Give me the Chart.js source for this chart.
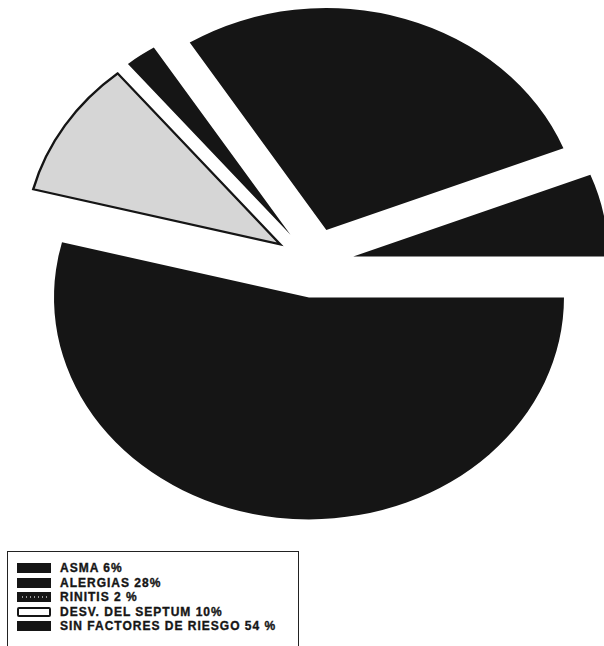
<!DOCTYPE html>
<html lang="es">
<head>
  <meta charset="UTF-8">
  <title>Factores de riesgo</title>
  <script src="https://cdn.jsdelivr.net/npm/chart.js"></script>
  <style>
    body {
      margin: 0;
      width: 604px;
      height: 646px;
      overflow: hidden;
      position: relative;
      background: #fff;
      font-family: "Liberation Sans", Arial, sans-serif;
    }

    #pie {
      position: absolute;
      left: 0;
      top: 0;
    }

    .legend {
      position: absolute;
      left: 7px;
      top: 551px;
      width: 292px;
      height: 110px;
      border: 1px solid #222;
      box-sizing: border-box;
      padding-top: 9px;
    }

    .legend-item {
      height: 14.5px;
      display: flex;
      align-items: center;
      font-weight: bold;
      font-size: 12px;
      letter-spacing: 1px;
      color: #151515;
      -webkit-text-stroke: 0.35px #151515;
      white-space: nowrap;
    }

    .swatch {
      width: 34px;
      height: 10px;
      margin-left: 9px;
      margin-right: 9px;
      box-sizing: border-box;
      flex: none;
    }
  </style>
</head>

<body>
  <canvas id="pie" width="604" height="540"></canvas>
  <div class="legend" id="legend"></div>

  <script>
    // legend order (top to bottom)
    const categories = ['ASMA', 'ALERGIAS', 'RINITIS', 'DESV. DEL SEPTUM', 'SIN FACTORES DE RIESGO'];
    const values = [6, 28, 2, 10, 54];
    const legendLabels = ['ASMA 6%', 'ALERGIAS 28%', 'RINITIS 2 %', 'DESV. DEL SEPTUM 10%', 'SIN FACTORES DE RIESGO 54 %'];
    const fills = ['#151515', '#151515', '#151515', '#d6d6d6', '#151515'];
    const borderWidths = [0, 0, 0, 2.5, 0];

    // the pie runs clockwise from the right, so it takes the legend order reversed
    const rev = arr => arr.slice().reverse();

    // pulls every slice out along its middle angle and tilts the pie into an ellipse
    const explodeAndTilt = {
      id: 'explodeAndTilt',
      beforeDatasetsDraw(chart, args, opts) {
        const area = chart.chartArea;
        const cx = (area.left + area.right) / 2;
        const cy = (area.top + area.bottom) / 2;
        chart.getDatasetMeta(0).data.forEach(arc => {
          const mid = (arc.startAngle + arc.endAngle) / 2;
          arc.x = cx + opts.distance * Math.cos(mid);
          arc.y = cy + opts.distance * Math.sin(mid);
        });
        const ctx = chart.ctx;
        ctx.save();
        ctx.translate(0, cy);
        ctx.scale(1, opts.tilt);
        ctx.translate(0, -cy);
      },
      afterDatasetsDraw(chart) {
        chart.ctx.restore();
      }
    };

    new Chart(document.getElementById('pie').getContext('2d'), {
      type: 'pie',
      data: {
        labels: rev(categories),
        datasets: [{
          data: rev(values),
          backgroundColor: rev(fills),
          borderColor: '#151515',
          borderWidth: rev(borderWidths),
          borderJoinStyle: 'miter',
          clip: false
        }]
      },
      options: {
        responsive: false,
        animation: false,
        rotation: 90,
        radius: 255,
        layout: { padding: { left: 24, bottom: 14 } },
        plugins: {
          legend: { display: false },
          tooltip: { enabled: false },
          explodeAndTilt: { distance: 40, tilt: 0.87 }
        }
      },
      plugins: [explodeAndTilt]
    });

    // html legend, one row per category
    const legend = document.getElementById('legend');
    legendLabels.forEach((text, i) => {
      const row = document.createElement('div');
      row.className = 'legend-item';
      const sw = document.createElement('span');
      sw.className = 'swatch';
      if (categories[i] === 'RINITIS') {
        sw.style.background = '#151515';
        sw.style.border = '2px solid #151515';
        sw.style.backgroundImage = 'repeating-linear-gradient(90deg, #151515 0 3px, #9a9a9a 3px 4px)';
        sw.style.backgroundSize = '100% 2px';
        sw.style.backgroundRepeat = 'no-repeat';
        sw.style.backgroundPosition = 'center';
      } else if (fills[i] !== '#151515') {
        sw.style.background = '#fff';
        sw.style.border = '2px solid #151515';
        sw.style.borderRadius = '2px';
      } else {
        sw.style.background = fills[i];
      }
      row.appendChild(sw);
      row.appendChild(document.createTextNode(text));
      legend.appendChild(row);
    });
  </script>
</body>

</html>
